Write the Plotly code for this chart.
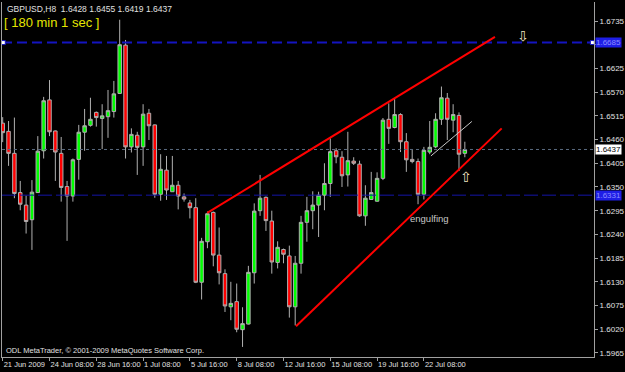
import plotly.graph_objects as go

# ---- data (GBPUSD, H8) ----
bar_index = list(range(80))
open_ = [1.6498, 1.6479, 1.6428, 1.6337, 1.6308, 1.6274, 1.6337, 1.6434, 1.6552, 1.6480,
         1.6428, 1.6351, 1.6329, 1.6414, 1.6477, 1.6493, 1.6523, 1.6509, 1.6513, 1.6525,
         1.6567, 1.6679, 1.6443, 1.6470, 1.6443, 1.6521, 1.6494, 1.6333, 1.6389, 1.6339,
         1.6354, 1.6327, 1.6313, 1.6302, 1.6129, 1.6223, 1.6291, 1.6192, 1.6149, 1.6072,
         1.6084, 1.6019, 1.6032, 1.6151, 1.6295, 1.6326, 1.6271, 1.6175, 1.6205, 1.6190,
         1.6072, 1.6173, 1.6268, 1.6295, 1.6308, 1.6331, 1.6358, 1.6434, 1.6419, 1.6378,
         1.6410, 1.6403, 1.6283, 1.6321, 1.6317, 1.6370, 1.6507, 1.6488, 1.6518, 1.6455,
         1.6414, 1.6409, 1.6333, 1.6431, 1.6443, 1.6507, 1.6556, 1.6505, 1.6516, 1.6428]
high = [1.6512, 1.6503, 1.6511, 1.6364, 1.6330, 1.6366, 1.6468, 1.6559, 1.6598, 1.6481,
        1.6466, 1.6364, 1.6416, 1.6494, 1.6531, 1.6557, 1.6525, 1.6542, 1.6575, 1.6596,
        1.6738, 1.6691, 1.6486, 1.6478, 1.6542, 1.6531, 1.6495, 1.6426, 1.6422, 1.6422,
        1.6364, 1.6335, 1.6320, 1.6324, 1.6232, 1.6293, 1.6293, 1.6256, 1.6159, 1.6130,
        1.6126, 1.6071, 1.6167, 1.6312, 1.6378, 1.6328, 1.6295, 1.6224, 1.6207, 1.6214,
        1.6190, 1.6283, 1.6327, 1.6340, 1.6339, 1.6405, 1.6463, 1.6440, 1.6433, 1.6478,
        1.6419, 1.6411, 1.6354, 1.6385, 1.6384, 1.6510, 1.6544, 1.6554, 1.6521, 1.6475,
        1.6436, 1.6416, 1.6443, 1.6503, 1.6521, 1.6583, 1.6568, 1.6542, 1.6523, 1.6455]
low = [1.6454, 1.6399, 1.6324, 1.6296, 1.6242, 1.6204, 1.6336, 1.6416, 1.6468, 1.6364,
       1.6316, 1.6225, 1.6316, 1.6367, 1.6434, 1.6490, 1.6490, 1.6438, 1.6464, 1.6511,
       1.6566, 1.6416, 1.6430, 1.6378, 1.6399, 1.6459, 1.6325, 1.6318, 1.6320, 1.6339,
       1.6298, 1.6316, 1.6277, 1.6127, 1.6089, 1.6208, 1.6166, 1.6124, 1.6060, 1.6041,
       1.6013, 1.5979, 1.6031, 1.6126, 1.6283, 1.6248, 1.6149, 1.6161, 1.6173, 1.6047,
       1.6029, 1.6149, 1.6223, 1.6252, 1.6234, 1.6296, 1.6327, 1.6405, 1.6350, 1.6351,
       1.6401, 1.6281, 1.6260, 1.6321, 1.6316, 1.6366, 1.6450, 1.6486, 1.6431, 1.6385,
       1.6405, 1.6310, 1.6321, 1.6426, 1.6440, 1.6494, 1.6459, 1.6477, 1.6387, 1.6419]
close = [1.6476, 1.6428, 1.6335, 1.6310, 1.6270, 1.6338, 1.6433, 1.6550, 1.6478, 1.6431,
         1.6349, 1.6329, 1.6413, 1.6477, 1.6492, 1.6507, 1.6511, 1.6515, 1.6527, 1.6566,
         1.6680, 1.6443, 1.6472, 1.6442, 1.6519, 1.6492, 1.6333, 1.6391, 1.6343, 1.6354,
         1.6329, 1.6322, 1.6302, 1.6129, 1.6224, 1.6288, 1.6192, 1.6151, 1.6074, 1.6080,
         1.6020, 1.6033, 1.6152, 1.6294, 1.6324, 1.6272, 1.6176, 1.6210, 1.6194, 1.6072,
         1.6173, 1.6268, 1.6295, 1.6308, 1.6331, 1.6358, 1.6432, 1.6420, 1.6376, 1.6411,
         1.6405, 1.6283, 1.6324, 1.6337, 1.6370, 1.6505, 1.6486, 1.6518, 1.6455, 1.6413,
         1.6409, 1.6333, 1.6435, 1.6442, 1.6507, 1.6557, 1.6507, 1.6518, 1.6426, 1.6437]

x_tick_pos = [0, 8, 16, 24, 32, 40, 48, 56, 64, 72]
x_tick_text = ["21 Jun 2009", "24 Jun 08:00", "28 Jun 16:00", "1 Jul 08:00", "5 Jul 16:00",
               "8 Jul 08:00", "12 Jul 16:00", "15 Jul 08:00", "19 Jul 16:00", "22 Jul 08:00"]
# 1.6680 is hidden under the blue level label in the original
y_tick_vals = [1.5965, 1.6020, 1.6075, 1.6130, 1.6185, 1.6240, 1.6295, 1.6350,
               1.6405, 1.6460, 1.6515, 1.6570, 1.6625, 1.6680, 1.6735]
y_tick_text = ["1.5965", "1.6020", "1.6075", "1.6130", "1.6185", "1.6240", "1.6295", "1.6350",
               "1.6405", "1.6460", "1.6515", "1.6570", "1.6625", "", "1.6735"]

current_price = 1.6437
level_upper = 1.6685
level_lower = 1.6331

# trend lines (bar index, price)
upper_line_x = [34.97, 84.15]
upper_line_y = [1.6290, 1.6698]
lower_line_x = [50.14, 85.3]
lower_line_y = [1.6027, 1.6486]
small_line_x = [73.2, 80.2]
small_line_y = [1.6422, 1.6502]

x_range = [-0.12, 101.08]
y_range = [1.59556, 1.67791]

FONT = "Liberation Sans"
GRAY = "#A0A0A0"

fig = go.Figure()

fig.add_trace(go.Candlestick(
    x=bar_index, open=open_, high=high, low=low, close=close,
    increasing=dict(line=dict(color="#B0B0B0", width=1), fillcolor="#00FF00"),
    decreasing=dict(line=dict(color="#B0B0B0", width=1), fillcolor="#FF0000"),
    whiskerwidth=0, showlegend=False, hoverinfo="skip",
))

# horizontal levels
fig.add_trace(go.Scatter(x=x_range, y=[current_price] * 2, mode="lines",
                         line=dict(color="#5A6A80", width=1, dash="dot"),
                         showlegend=False, hoverinfo="skip"))
fig.add_trace(go.Scatter(x=x_range, y=[level_upper] * 2, mode="lines",
                         line=dict(color="#1414C0", width=2, dash="10px,5px"),
                         showlegend=False, hoverinfo="skip"))
fig.add_trace(go.Scatter(x=x_range, y=[level_lower] * 2, mode="lines",
                         line=dict(color="#1414A8", width=1, dash="14px,4px"),
                         showlegend=False, hoverinfo="skip"))
fig.add_trace(go.Scatter(x=[0.1, 100.8], y=[level_upper] * 2, mode="markers",
                         marker=dict(symbol="square", size=4, color="white",
                                     line=dict(color="#1414C0", width=1)),
                         showlegend=False, hoverinfo="skip"))

# trend lines
fig.add_trace(go.Scatter(x=upper_line_x, y=upper_line_y, mode="lines",
                         line=dict(color="#FF0000", width=2), showlegend=False, hoverinfo="skip"))
fig.add_trace(go.Scatter(x=lower_line_x, y=lower_line_y, mode="lines",
                         line=dict(color="#FF0000", width=2), showlegend=False, hoverinfo="skip"))
fig.add_trace(go.Scatter(x=small_line_x, y=small_line_y, mode="lines",
                         line=dict(color="#C8C8C8", width=1), showlegend=False, hoverinfo="skip"))

annotations = [
    dict(text="GBPUSD,H8  1.6428 1.6455 1.6419 1.6437", xref="paper", yref="paper",
         x=0, y=1, xanchor="left", yanchor="top", xshift=3, yshift=0, showarrow=False,
         font=dict(family=FONT, size=8.5, color="#E0E0E0")),
    dict(text="[ 180 min 1 sec ]", xref="paper", yref="paper",
         x=0, y=1, xanchor="left", yanchor="middle", xshift=0, yshift=-20, showarrow=False,
         font=dict(family=FONT, size=13, color="#E6E600")),
    dict(text="ODL MetaTrader, © 2001-2009 MetaQuotes Software Corp.", xref="paper", yref="paper",
         x=0, y=0, xanchor="left", yanchor="bottom", xshift=2, yshift=0, showarrow=False,
         font=dict(family=FONT, size=7.5, color="#E0E0E0")),
    dict(text="engulfing", x=73.04, y=1.6276, xref="x", yref="y", showarrow=False,
         font=dict(family=FONT, size=9.5, color="#C8C8C8")),
    dict(text="⇩", x=88.9, y=1.6700, xref="x", yref="y", showarrow=False,
         font=dict(family="DejaVu Sans", size=14, color="#F0E0C0")),
    dict(text="⇧", x=79.2, y=1.6373, xref="x", yref="y", showarrow=False,
         font=dict(family="DejaVu Sans", size=14, color="#F0E0C0")),
    dict(text="1.6437", xref="paper", yref="y", x=1, y=current_price, xanchor="left",
         xshift=1, showarrow=False, bgcolor="white", borderpad=0,
         font=dict(family=FONT, size=8, color="black")),
    dict(text="1.6685", xref="paper", yref="y", x=1, y=level_upper, xanchor="left",
         xshift=1, showarrow=False, bgcolor="#1E1EE6", borderpad=0,
         font=dict(family=FONT, size=8, color="#8C8CFF")),
    dict(text="1.6331", xref="paper", yref="y", x=1, y=level_lower, xanchor="left",
         xshift=1, showarrow=False, bgcolor="#1E1EE6", borderpad=0,
         font=dict(family=FONT, size=8, color="#8C8CFF")),
]

fig.update_layout(
    width=625, height=372,
    margin=dict(l=2, r=31, t=2, b=15, autoexpand=False),
    paper_bgcolor="black", plot_bgcolor="black",
    boxgap=0.15,
    annotations=annotations,
    showlegend=False,
    xaxis=dict(range=x_range, showgrid=False, zeroline=False,
               tickvals=x_tick_pos, ticktext=x_tick_text, tickangle=0,
               ticks="outside", ticklen=3, tickcolor=GRAY,
               ticklabelposition="outside right", automargin=False,
               tickfont=dict(family=FONT, size=7.5, color="#E0E0E0"),
               showline=True, linecolor=GRAY, linewidth=1,
               rangeslider=dict(visible=False), fixedrange=True),
    yaxis=dict(range=y_range, side="right", showgrid=False, zeroline=False,
               tickvals=y_tick_vals, ticktext=y_tick_text, automargin=False,
               ticks="outside", ticklen=3, tickcolor=GRAY,
               tickfont=dict(family=FONT, size=8, color="#E0E0E0"),
               showline=True, linecolor=GRAY, linewidth=1, mirror=True,
               fixedrange=True),
)

fig.write_html("out.html")
